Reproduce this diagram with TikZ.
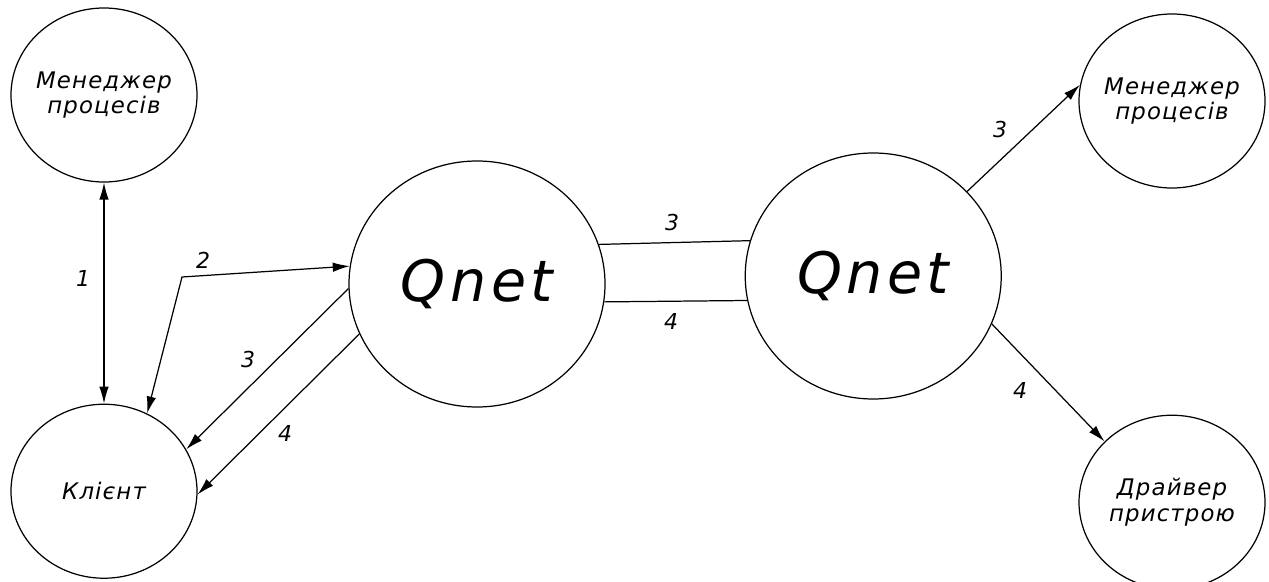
\documentclass[tikz,border=0pt]{standalone}
\usepackage{fontspec}
\setmainfont{DejaVu Sans}[LetterSpace=5,ItalicFont=DejaVu Sans Oblique]
\newfontfamily\hubfont{DejaVu Sans}[LetterSpace=8,ItalicFont=DejaVu Sans Oblique]
\usepackage{tikz}
\usetikzlibrary{arrows.meta,positioning,shapes.geometric}

\begin{document}
\begin{tikzpicture}[
  proc/.style={draw, ellipse, line width=0.7pt, minimum width=3.72cm, minimum height=3.48cm, inner xsep=-3pt, inner ysep=0pt, align=center, font=\fontsize{13}{14.7}\selectfont\itshape},
  hub/.style={draw, ellipse, line width=0.7pt, minimum width=5.12cm, minimum height=4.92cm, inner sep=0pt, font=\hubfont\fontsize{32.5}{38}\selectfont\itshape},
  arr/.style={-{Latex[length=0.34cm, width=0.19cm]}, line width=0.7pt},
  darr/.style={{Latex[length=0.34cm, width=0.19cm]}-{Latex[length=0.34cm, width=0.19cm]}, line width=0.7pt},
  link/.style={line width=0.7pt},
  lbl/.style={font=\fontsize{12.5}{14}\selectfont\itshape, inner sep=0pt}
]
  \useasboundingbox (0,0) rectangle (25.38,-11.64);

  % client side
  \node[proc] (mgrL) at (2.08,-1.90) {Менеджер\\процесів};
  \node[proc, below=4.42cm of mgrL] (client) {Клієнт};

  % the two network managers
  \node[hub] (qnetL) at (9.54,-5.68) {Qnet};
  \node[hub, right=2.78cm of qnetL, yshift=0.16cm] (qnetR) {Qnet};

  % server side
  \node[proc] (mgrR) at (23.44,-2.02) {Менеджер\\процесів};
  \node[proc, below=4.52cm of mgrR] (driver) {Драйвер\\пристрою};

  \coordinate (bend2) at (3.64,-5.54);

  \draw[darr] (mgrL) -- (client);
  \draw[darr] (client.61) -- (bend2) -- (qnetL.172);
  \draw[arr] (qnetL.182) -- (client.27);
  \draw[arr] (qnetL.203) -- (client.-2);

  \draw[link] (qnetL.18) -- (qnetR.164);
  \draw[link] (qnetL.-8) -- (qnetR.191);

  \draw[arr] (qnetR.42) -- (mgrR.170);
  \draw[arr] (qnetR.-22) -- (driver.138);

  % message numbers
  \node[lbl] (n1) at (1.66,-5.56) {1};
  \node[lbl] (n2) at (4.06,-5.20) {2};
  \node[lbl] (n3l) at (4.96,-7.20) {3};
  \node[lbl] (n4l) at (5.70,-8.66) {4};
  \node[lbl] (n3m) at (13.44,-4.46) {3};
  \node[lbl] (n4m) at (13.42,-6.42) {4};
  \node[lbl] (n3r) at (20.00,-2.60) {3};
  \node[lbl] (n4r) at (20.40,-7.80) {4};
\end{tikzpicture}
\end{document}
